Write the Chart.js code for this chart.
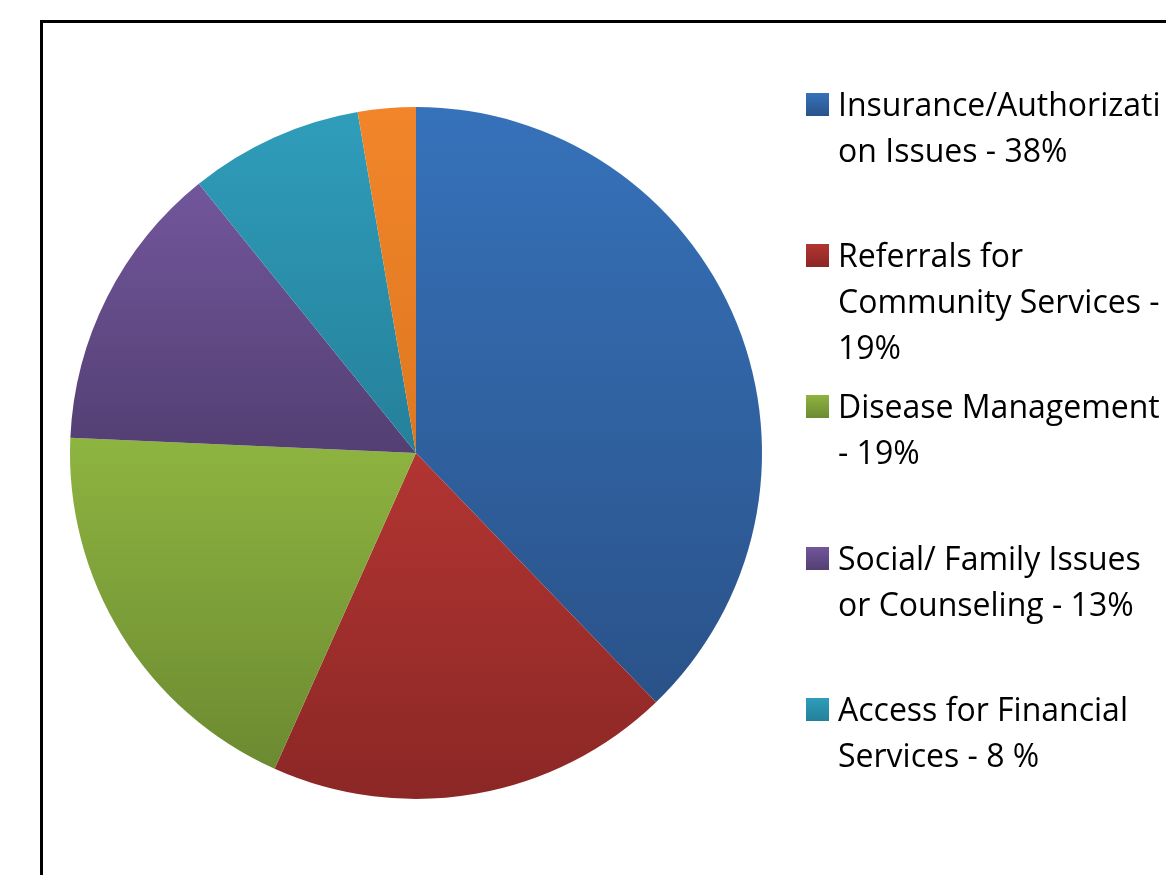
<!DOCTYPE html>
<html>
<head>
<meta charset="utf-8">
<script src="https://cdn.jsdelivr.net/npm/chart.js@4/dist/chart.umd.min.js"></script>
<style>
    html, body { margin: 0; padding: 0; background: #fff; overflow: hidden; }
    #page { position: relative; width: 1166px; height: 875px; overflow: hidden; }
    #frame { position: absolute; left: 40px; top: 20px; width: 1300px; height: 1000px; border: 3px solid #000; }
    #pie-chart { position: absolute; left: 0; top: 0; }
    #legend { position: absolute; left: 806px; top: 81px; font-family: "Open Sans", sans-serif; font-size: 32px; color: #000; }
    .item { position: absolute; left: 0; white-space: nowrap; }
    .box { position: absolute; left: 0; top: 12px; width: 23px; height: 23px; }
    .txt { position: absolute; left: 32px; top: 0; line-height: 46px; }
</style>
</head>
<body>
<div id="page">
    <div id="frame"></div>
    <canvas id="pie-chart" width="1166" height="875"></canvas>
    <div id="legend"></div>
</div>
<script>
const categories = ["Insurance/Authorization Issues", "Referrals for Community Services", "Disease Management",
    "Social/ Family Issues or Counseling", "Access for Financial Services", "Other"];
// slice sizes (legend shows the rounded figures)
const shares = [37.8, 18.9, 19, 13.5, 8.1, 2.7];
// legend text as it is wrapped in the picture (the last slice has no visible entry)
const legendLines = [
    ["Insurance/Authorizati", "on Issues - 38%"],
    ["Referrals for", "Community Services -", "19%"],
    ["Disease Management", "- 19%"],
    ["Social/ Family Issues", "or Counseling - 13%"],
    ["Access for Financial", "Services - 8 %"]
];
const topColors = ["#3672BA", "#B23532", "#8EB440", "#72569C", "#2F9DBA", "#F2852A"];
const bottomColors = ["#2A5289", "#8B2725", "#6C8A31", "#533F72", "#25809A", "#DE7820"];

function sliceGradient(context) {
    let chart = context.chart;
    let area = chart.chartArea;
    let i = context.dataIndex;
    if (!area) return topColors[i];
    let cx = (area.left + area.right) / 2;
    let cy = (area.top + area.bottom) / 2;
    let r = Math.min(area.width, area.height) / 2;
    let total = shares.reduce((a, b) => a + b, 0);
    let before = 0;
    for (let k = 0; k < i; k++) before += shares[k];
    let a0 = -Math.PI / 2 + 2 * Math.PI * before / total;
    let a1 = a0 + 2 * Math.PI * shares[i] / total;
    let ys = [cy, cy + r * Math.sin(a0), cy + r * Math.sin(a1)];
    if (a0 <= Math.PI / 2 && a1 >= Math.PI / 2) ys.push(cy + r);
    if (a1 >= 1.5 * Math.PI - 1e-6) ys.push(cy - r);
    let minY = Math.min(...ys);
    let maxY = Math.max(...ys);
    let g = chart.ctx.createLinearGradient(0, minY, 0, maxY);
    g.addColorStop(0, topColors[i]);
    g.addColorStop(1, bottomColors[i]);
    return g;
}

function buildLegend() {
    let legend = document.getElementById("legend");
    legendLines.forEach((lines, i) => {
        let item = document.createElement("div");
        item.className = "item";
        item.style.top = (i * 151.2) + "px";
        let box = document.createElement("div");
        box.className = "box";
        box.style.background = "linear-gradient(" + topColors[i] + ", " + bottomColors[i] + ")";
        let txt = document.createElement("div");
        txt.className = "txt";
        txt.innerHTML = lines.join("<br>");
        item.appendChild(box);
        item.appendChild(txt);
        legend.appendChild(item);
    });
}

function drawChart() {
    const ctx = document.getElementById("pie-chart");
    new Chart(ctx, {
        type: "pie",
        data: {
            labels: categories,
            datasets: [{
                data: shares,
                backgroundColor: sliceGradient,
                borderWidth: 0
            }]
        },
        options: {
            responsive: false,
            animation: false,
            layout: {
                padding: { left: 70, top: 107, right: 404, bottom: 76 }
            },
            plugins: {
                legend: { display: false },
                tooltip: { enabled: false }
            }
        }
    });
}

buildLegend();
drawChart();
</script>
</body>
</html>
